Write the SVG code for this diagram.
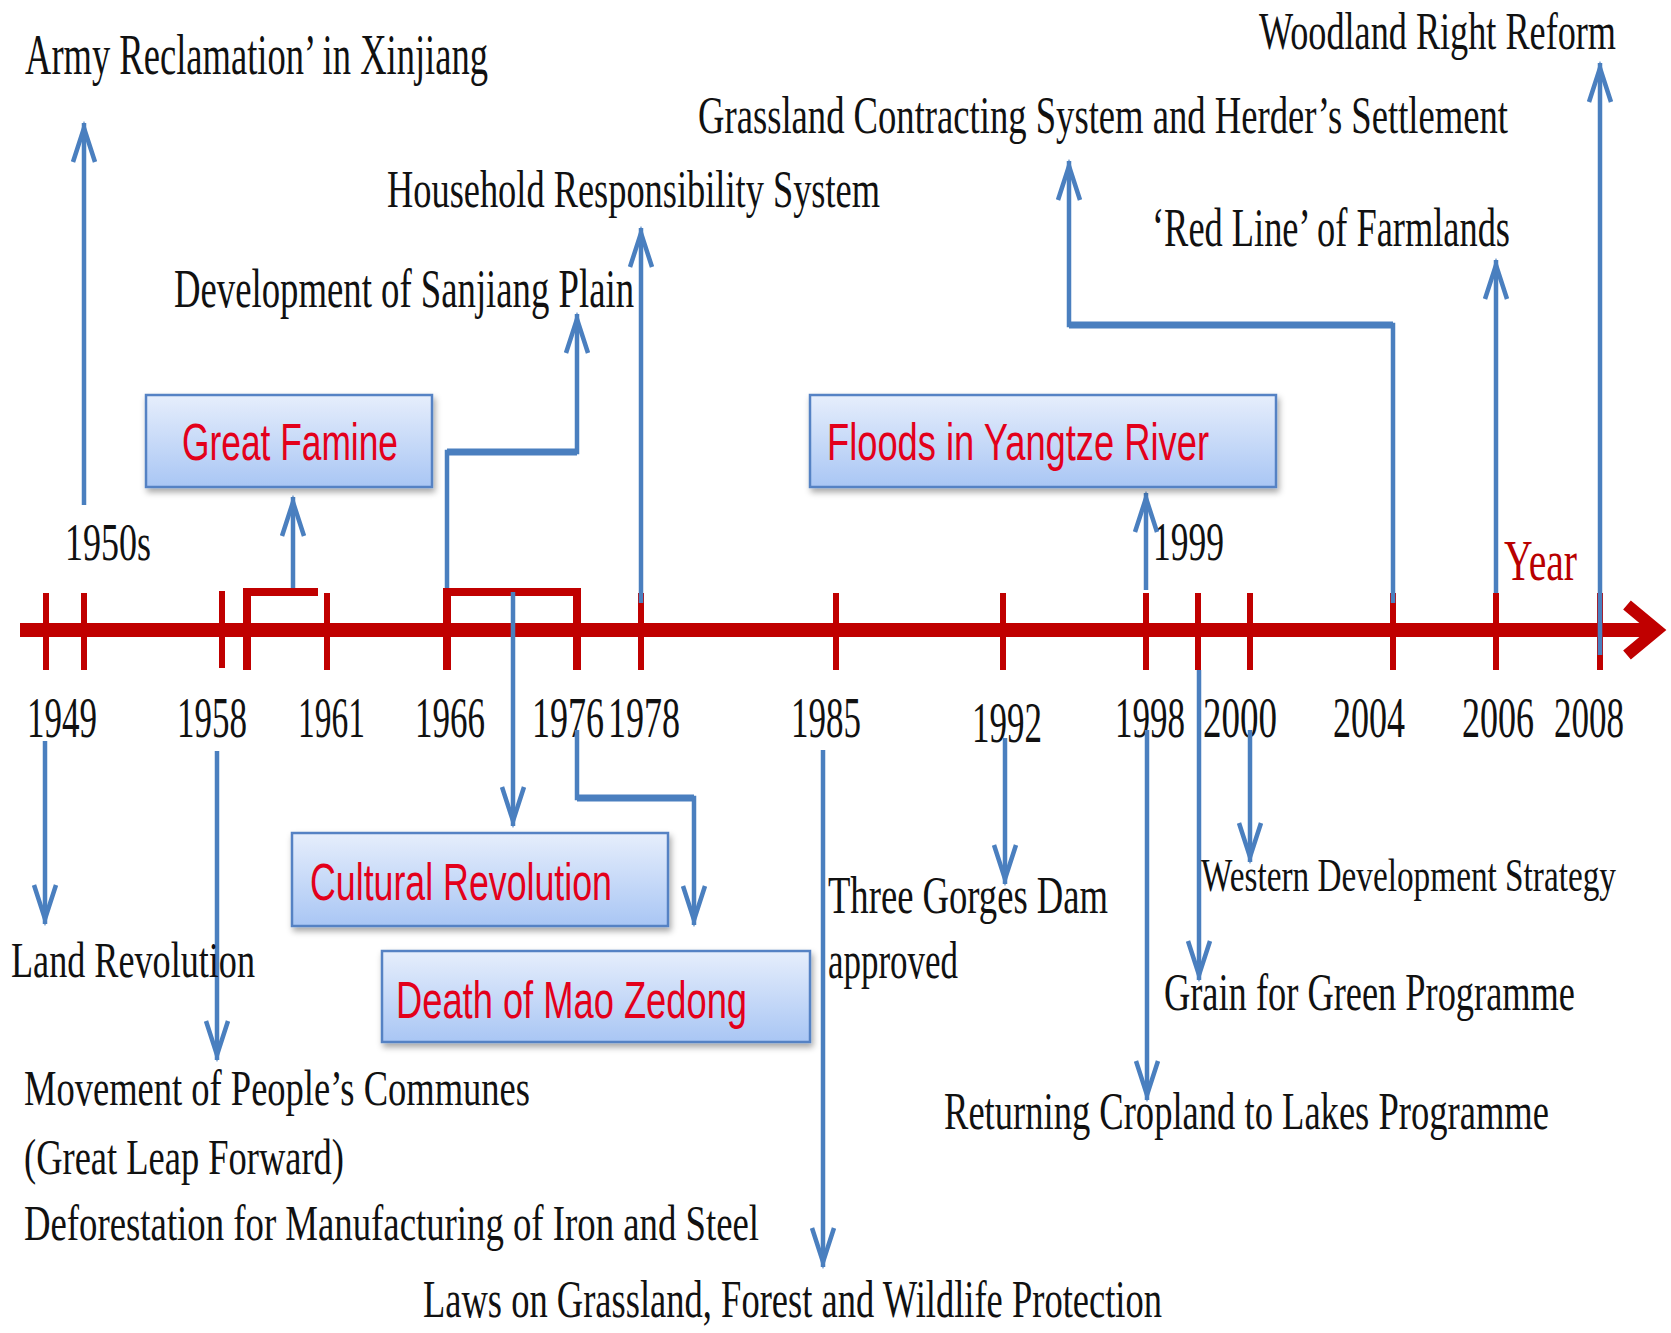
<svg xmlns="http://www.w3.org/2000/svg" width="1671" height="1333" viewBox="0 0 1671 1333">
<style>
.lbl{font-family:"Liberation Serif","Times New Roman",serif;fill:#111;font-size:53px}
.yr{font-family:"Liberation Serif","Times New Roman",serif;fill:#111;font-size:58px}
.bt{font-family:"Liberation Sans",Arial,sans-serif;fill:#e3001b;font-size:52px}
.box{fill:url(#bg);stroke:#5582c4;stroke-width:2.5;filter:url(#sh)}
.tick{stroke:#c00000;stroke-width:6;fill:none}
.brk{stroke:#c00000;stroke-width:8;fill:none;stroke-linejoin:miter}
.con{stroke:#4a7fbf;stroke-width:4.5;fill:none;marker-end:url(#ah)}
.thk{stroke:#4a7fbf;stroke-width:7;fill:none}
</style>
<defs>
<linearGradient id="bg" x1="0" y1="0" x2="0" y2="1">
<stop offset="0" stop-color="#e6eefc"/>
<stop offset="1" stop-color="#a9c6f4"/>
</linearGradient>
<filter id="sh" x="-10%" y="-20%" width="120%" height="150%">
<feDropShadow dx="2" dy="4" stdDeviation="3" flood-color="#000" flood-opacity="0.35"/>
</filter>
<marker id="ah" markerUnits="userSpaceOnUse" viewBox="-40 -15 50 30" refX="5" refY="0" markerWidth="50" markerHeight="30" orient="auto" overflow="visible">
<path d="M-34,-11 L0,0 L-34,11" fill="none" stroke="#4a7fbf" stroke-width="4.5"/>
</marker>
</defs>
<rect width="1671" height="1333" fill="#fff"/>

<g id="axis">
<line x1="20" y1="630" x2="1655" y2="630" stroke="#c00000" stroke-width="14"/>
<polyline points="1627,605 1657,630 1627,655" fill="none" stroke="#c00000" stroke-width="12"/>
<line class="tick" x1="46" y1="593" x2="46" y2="670"/>
<line class="tick" x1="84" y1="593" x2="84" y2="670"/>
<line class="tick" x1="222" y1="591" x2="222" y2="668"/>
<line class="tick" x1="327" y1="593" x2="327" y2="670"/>
<line class="tick" x1="641" y1="593" x2="641" y2="670"/>
<line class="tick" x1="836" y1="593" x2="836" y2="670"/>
<line class="tick" x1="1003" y1="593" x2="1003" y2="670"/>
<line class="tick" x1="1146" y1="593" x2="1146" y2="670"/>
<line class="tick" x1="1198" y1="593" x2="1198" y2="670"/>
<line class="tick" x1="1250" y1="593" x2="1250" y2="670"/>
<line class="tick" x1="1393" y1="593" x2="1393" y2="670"/>
<line class="tick" x1="1496" y1="593" x2="1496" y2="670"/>
<line class="tick" x1="1600" y1="593" x2="1600" y2="670"/>
<polyline class="brk" points="247,670 247,592 318,592"/>
<polyline class="brk" points="447,670 447,592 577,592 577,670"/>
</g>

<g id="year-labels">
<text class="yr" x="27" y="737" textLength="70" lengthAdjust="spacingAndGlyphs">1949</text>
<text class="yr" x="177" y="737" textLength="70" lengthAdjust="spacingAndGlyphs">1958</text>
<text class="yr" x="298" y="737" textLength="67" lengthAdjust="spacingAndGlyphs">1961</text>
<text class="yr" x="415" y="737" textLength="70" lengthAdjust="spacingAndGlyphs">1966</text>
<text class="yr" x="532" y="737" textLength="72" lengthAdjust="spacingAndGlyphs">1976</text>
<text class="yr" x="608" y="737" textLength="72" lengthAdjust="spacingAndGlyphs">1978</text>
<text class="yr" x="791" y="737" textLength="70" lengthAdjust="spacingAndGlyphs">1985</text>
<text class="yr" x="972" y="742" textLength="70" lengthAdjust="spacingAndGlyphs">1992</text>
<text class="yr" x="1115" y="737" textLength="70" lengthAdjust="spacingAndGlyphs">1998</text>
<text class="yr" x="1203" y="737" textLength="74" lengthAdjust="spacingAndGlyphs">2000</text>
<text class="yr" x="1333" y="737" textLength="72" lengthAdjust="spacingAndGlyphs">2004</text>
<text class="yr" x="1462" y="737" textLength="72" lengthAdjust="spacingAndGlyphs">2006</text>
<text class="yr" x="1554" y="737" textLength="70" lengthAdjust="spacingAndGlyphs">2008</text>
<text class="yr" x="65" y="560" style="font-size:52px" textLength="86" lengthAdjust="spacingAndGlyphs">1950s</text>
<text class="yr" x="1153" y="560" style="font-size:55px" textLength="71" lengthAdjust="spacingAndGlyphs">1999</text>
<text class="yr" x="1504" y="580" style="font-size:57px;fill:#b80000" textLength="73" lengthAdjust="spacingAndGlyphs">Year</text>
</g>

<g id="connectors">
<line class="con" x1="84" y1="505" x2="84" y2="123"/>
<line class="con" x1="293" y1="588" x2="293" y2="497"/>
<polyline class="con" points="447,588 447,452 577,452 577,314"/>
<line class="thk" x1="447" y1="452" x2="577" y2="452"/>
<line class="con" x1="641" y1="603" x2="641" y2="228"/>
<line class="con" x1="1146" y1="590" x2="1146" y2="493"/>
<polyline class="con" points="1393,603 1393,325 1069,325 1069,161"/>
<line class="thk" x1="1069" y1="325" x2="1393" y2="325"/>
<line class="con" x1="1496" y1="593" x2="1496" y2="260"/>
<line class="con" x1="1600" y1="655" x2="1600" y2="63"/>
<line class="con" x1="45" y1="741" x2="45" y2="924"/>
<line class="con" x1="217" y1="751" x2="217" y2="1060"/>
<line class="con" x1="513" y1="592" x2="513" y2="826"/>
<polyline class="con" points="577,730 577,798 694,798 694,925"/>
<line class="thk" x1="577" y1="798" x2="694" y2="798"/>
<line class="con" x1="823" y1="750" x2="823" y2="1267"/>
<line class="con" x1="1005" y1="738" x2="1005" y2="884"/>
<line class="con" x1="1147" y1="730" x2="1147" y2="1100"/>
<line class="con" x1="1199" y1="670" x2="1199" y2="980"/>
<line class="con" x1="1250" y1="730" x2="1250" y2="862"/>
</g>

<g id="great-famine">
<rect class="box" x="146" y="395" width="286" height="92"/>
<text class="bt" x="182" y="460" textLength="216" lengthAdjust="spacingAndGlyphs">Great Famine</text>
</g>
<g id="floods">
<rect class="box" x="810" y="395" width="466" height="92"/>
<text class="bt" x="827" y="460" textLength="382" lengthAdjust="spacingAndGlyphs">Floods in Yangtze River</text>
</g>
<g id="cultural-revolution">
<rect class="box" x="292" y="833" width="376" height="93"/>
<text class="bt" x="310" y="900" textLength="302" lengthAdjust="spacingAndGlyphs">Cultural Revolution</text>
</g>
<g id="death-mao">
<rect class="box" x="382" y="951" width="428" height="91"/>
<text class="bt" x="396" y="1018" textLength="351" lengthAdjust="spacingAndGlyphs">Death of Mao Zedong</text>
</g>

<g id="army-reclamation"><text class="lbl" x="25" y="74" style="font-size:56px" textLength="463" lengthAdjust="spacingAndGlyphs">Army Reclamation’ in Xinjiang</text></g>
<g id="woodland"><text class="lbl" x="1259" y="49" style="font-size:52px" textLength="357" lengthAdjust="spacingAndGlyphs">Woodland Right Reform</text></g>
<g id="grassland"><text class="lbl" x="698" y="133" textLength="810" lengthAdjust="spacingAndGlyphs">Grassland Contracting System and Herder’s Settlement</text></g>
<g id="household"><text class="lbl" x="387" y="207" textLength="493" lengthAdjust="spacingAndGlyphs">Household Responsibility System</text></g>
<g id="red-line"><text class="lbl" x="1152" y="246" style="font-size:54px" textLength="358" lengthAdjust="spacingAndGlyphs">‘Red Line’ of Farmlands</text></g>
<g id="sanjiang"><text class="lbl" x="174" y="307" style="font-size:55px" textLength="460" lengthAdjust="spacingAndGlyphs">Development of Sanjiang Plain</text></g>
<g id="land-revolution"><text class="lbl" x="11" y="977" style="font-size:51px" textLength="244" lengthAdjust="spacingAndGlyphs">Land Revolution</text></g>
<g id="communes">
<text class="lbl" x="24" y="1105" style="font-size:50px" textLength="506" lengthAdjust="spacingAndGlyphs">Movement of People’s Communes</text>
<text class="lbl" x="24" y="1174" style="font-size:50px" textLength="320" lengthAdjust="spacingAndGlyphs">(Great Leap Forward)</text>
<text class="lbl" x="24" y="1240" style="font-size:50px" textLength="735" lengthAdjust="spacingAndGlyphs">Deforestation for Manufacturing of Iron and Steel</text>
</g>
<g id="laws"><text class="lbl" x="423" y="1317" textLength="739" lengthAdjust="spacingAndGlyphs">Laws on Grassland, Forest and Wildlife Protection</text></g>
<g id="three-gorges">
<text class="lbl" x="828" y="913" textLength="280" lengthAdjust="spacingAndGlyphs">Three Gorges Dam</text>
<text class="lbl" x="828" y="978" textLength="130" lengthAdjust="spacingAndGlyphs">approved</text>
</g>
<g id="western"><text class="lbl" x="1201" y="891" style="font-size:47px" textLength="415" lengthAdjust="spacingAndGlyphs">Western Development Strategy</text></g>
<g id="grain-green"><text class="lbl" x="1164" y="1010" textLength="411" lengthAdjust="spacingAndGlyphs">Grain for Green Programme</text></g>
<g id="cropland-lakes"><text class="lbl" x="944" y="1129" textLength="605" lengthAdjust="spacingAndGlyphs">Returning Cropland to Lakes Programme</text></g>
</svg>
